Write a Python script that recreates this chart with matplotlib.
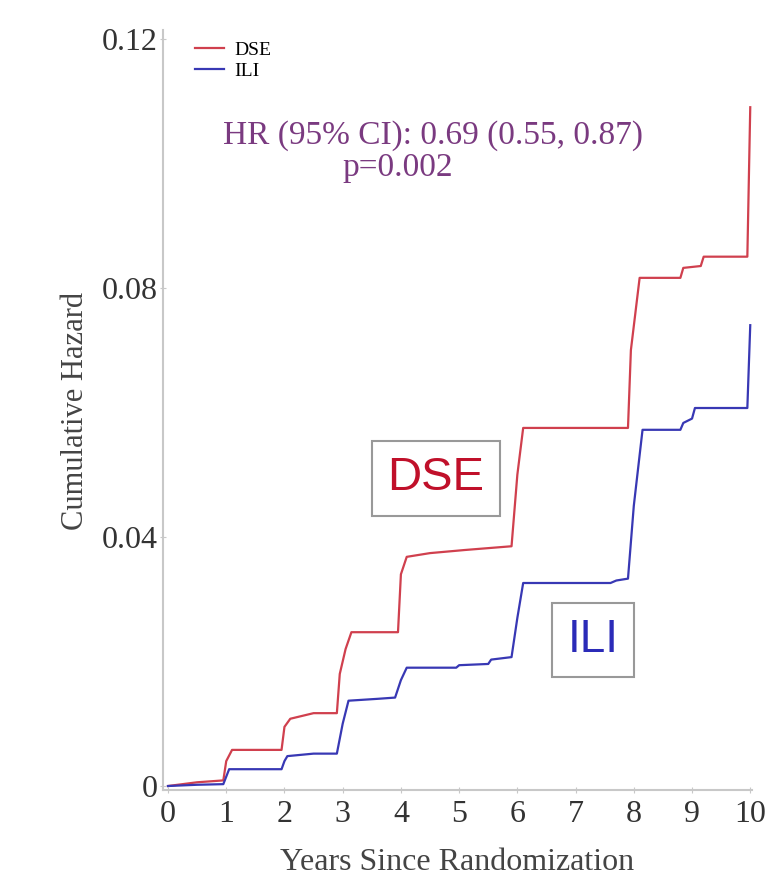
import numpy as np
import matplotlib
matplotlib.use("Agg")
import matplotlib.pyplot as plt

plt.rcParams['font.family'] = ['Liberation Serif', 'DejaVu Serif']

# cumulative hazard
dse_years = [0, 0.5, 0.95, 1.0, 1.1, 1.95, 2.0, 2.1, 2.5, 2.9, 2.95, 3.05, 3.15, 3.95, 4.0, 4.1, 4.5, 5.1, 5.5, 5.9, 6.0, 6.1,
             7.9, 7.95, 8.1, 8.8, 8.85, 9.15, 9.2, 9.95, 10.0]
dse_haz = [0.0, 0.0006, 0.0009, 0.004, 0.0058, 0.0058, 0.0095, 0.0108, 0.0117, 0.0117, 0.018, 0.022, 0.0247, 0.0247, 0.034, 0.0368,
           0.0374, 0.0379, 0.0382, 0.0385, 0.050, 0.0575, 0.0575, 0.070, 0.0816, 0.0816, 0.0832, 0.0835, 0.0850, 0.0850, 0.109]
ili_years = [0, 0.5, 0.95, 1.0, 1.05, 1.95, 2.0, 2.05, 2.5, 2.9, 3.0, 3.1, 3.6, 3.9, 4.0, 4.1, 4.95, 5.0, 5.5, 5.55, 5.9, 6.0, 6.1,
             7.6, 7.7, 7.9, 8.0, 8.15, 8.8, 8.85, 9.0, 9.05, 9.95, 10.0]
ili_haz = [0.0, 0.0002, 0.0003, 0.0015, 0.0027, 0.0027, 0.004, 0.0048, 0.0052, 0.0052, 0.010, 0.0137, 0.014, 0.0142, 0.017, 0.019,
           0.019, 0.0194, 0.0196, 0.0203, 0.0207, 0.027, 0.0326, 0.0326, 0.033, 0.0333, 0.045, 0.0572, 0.0572, 0.0583, 0.059, 0.0607,
           0.0607, 0.074]

xticks = list(range(0, 11))
yticks = [0, 0.04, 0.08, 0.12]
ytick_labels = ['0', '0.04', '0.08', '0.12']

red = '#d0404e'
blue = '#3838b4'

fig = plt.figure(figsize=(7.74, 8.93), dpi=100)
ax = fig.add_axes([163 / 774, 1 - 790 / 893, (752 - 163) / 774, (790 - 30) / 893])

ax.plot(dse_years, dse_haz, color=red, lw=1.6, label='DSE')
ax.plot(ili_years, ili_haz, color=blue, lw=1.6, label='ILI')

ax.set_xlim(-0.086, 10.03)
ax.set_ylim(-0.00064, 0.1214)
ax.set_xticks(xticks)
ax.set_yticks(yticks)
ax.set_yticklabels(ytick_labels)

for s in ['top', 'right']:
    ax.spines[s].set_visible(False)
for s in ['left', 'bottom']:
    ax.spines[s].set_color('#c8c8c8')
    ax.spines[s].set_linewidth(1.5)
ax.tick_params(axis='both', colors='#c8c8c8', labelcolor='#333333', labelsize=23, length=4, direction='inout')
ax.tick_params(axis='x', pad=5)
ax.tick_params(axis='y', pad=2)

ax.set_xlabel('Years Since Randomization', fontsize=23, color='#444444', labelpad=14)
ax.set_ylabel('Cumulative Hazard', fontsize=22, color='#444444')
ax.yaxis.set_label_coords((90 - 163) / 589, (790 - 411) / 760)

ax.legend(loc='upper left', bbox_to_anchor=(0.025, 1.008), frameon=False, fontsize=14, handlelength=1.5,
          handletextpad=0.5, labelspacing=0.15)

ax.text(4.55, 0.1045, 'HR (95% CI): 0.69 (0.55, 0.87)', color='#7a3a80', fontsize=24, ha='center', va='center')
ax.text(3.95, 0.0993, 'p=0.002', color='#7a3a80', fontsize=24, ha='center', va='center')

ax.text(4.6, 0.0494, 'DSE', color='#c0102a', fontsize=34, family=['Liberation Sans'], ha='center', va='center',
        bbox=dict(boxstyle='square,pad=0.33', fc='white', ec='#999999', lw=1.5))
ax.text(7.3, 0.0235, 'ILI', color='#2b2bb8', fontsize=33, family=['Liberation Sans'], ha='center', va='center',
        bbox=dict(boxstyle='square,pad=0.33', fc='white', ec='#999999', lw=1.5))

fig.savefig('out.png', dpi=100)
